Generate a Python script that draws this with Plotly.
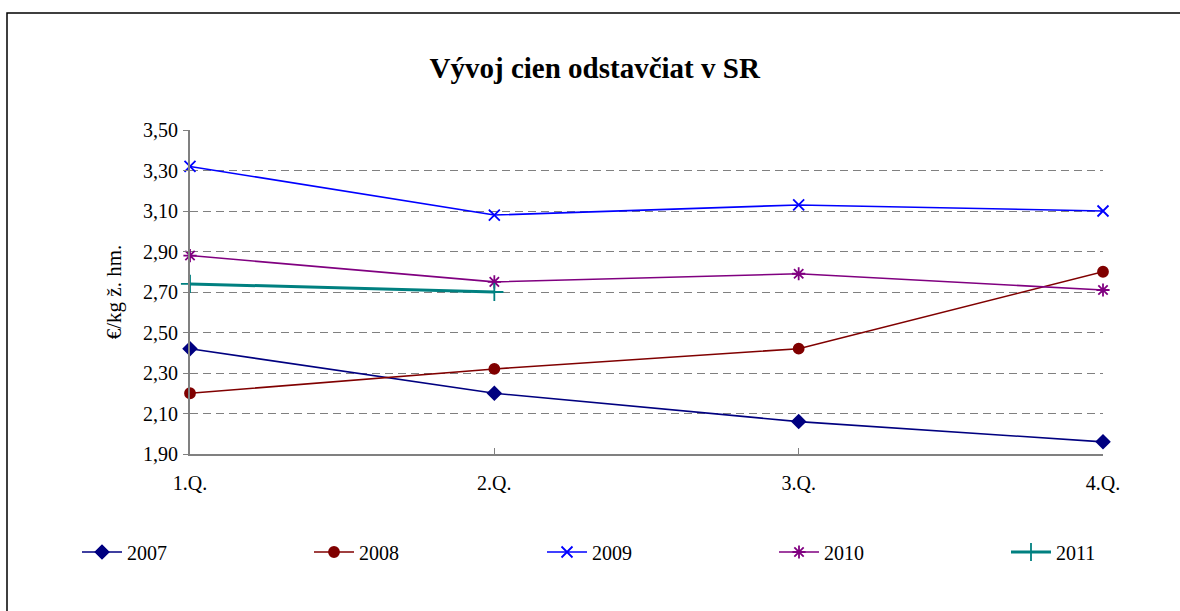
import plotly.graph_objects as go

quarters = ['1.Q.', '2.Q.', '3.Q.', '4.Q.']
y2007 = [2.42, 2.20, 2.06, 1.96]
y2008 = [2.20, 2.32, 2.42, 2.80]
y2009 = [3.32, 3.08, 3.13, 3.10]
y2010 = [2.88, 2.75, 2.79, 2.71]
y2011 = [2.74, 2.70]
y_ticks = [1.9, 2.1, 2.3, 2.5, 2.7, 2.9, 3.1, 3.3, 3.5]

font_serif = 'Liberation Serif, Times New Roman, serif'

# plot area in pixels: x 190..1103, y 130..454
L, R, T, B = 190, 1103, 130, 454
def px_x(p):
    return (p - L) / (R - L)
def px_y(p):
    return (B - p) / (B - T)

series = [
    ('2007', y2007, '#000080', 'diamond', 10, 1.6),
    ('2008', y2008, '#800000', 'circle', 10, 1.6),
    ('2009', y2009, '#0000ff', 'x-thin', 11, 1.6),
    ('2010', y2010, '#800080', 'asterisk', 11, 1.6),
    ('2011', y2011, '#008080', 'cross-thin', 13, 3),
]
legend_starts = [85, 317, 550, 782, 1014]

fig = go.Figure()

for i, (name, vals, color, symbol, size, width) in enumerate(series):
    lg = 'legend' if i == 0 else f'legend{i + 1}'
    fig.add_trace(go.Scatter(
        x=list(range(len(vals))), y=vals, name=name, mode='lines+markers',
        line=dict(color=color, width=width),
        marker=dict(symbol=symbol, size=size, color=color,
                    line=dict(color=color, width=1.8)),
        cliponaxis=False,
        legend=lg,
    ))
    fig.update_layout({lg: dict(
        x=px_x(legend_starts[i] - 8), xanchor='left', y=px_y(552), yanchor='middle',
        font=dict(size=20, family=font_serif), bgcolor='rgba(0,0,0,0)',
        itemwidth=40,
    )})

fig.update_layout(
    width=1180, height=611,
    margin=dict(l=L, r=1180 - R, t=T, b=611 - B),
    paper_bgcolor='white', plot_bgcolor='white',
    font=dict(family=font_serif, size=20, color='black'),
    title=dict(text='<b>Vývoj cien odstavčiat v SR</b>', x=0.504, xanchor='center',
               y=1 - 68 / 611, yanchor='middle', font=dict(size=29, family=font_serif)),
    xaxis=dict(
        range=[0, 3], tickvals=[0, 1, 2, 3], ticktext=quarters,
        showgrid=False, zeroline=False, showline=True, linecolor='#808080', linewidth=2,
        ticks='inside', ticklen=6, tickcolor='#808080', tickwidth=1,
        ticklabelstandoff=10,
    ),
    yaxis=dict(
        range=[1.9, 3.5], tickvals=y_ticks, ticktext=[f'{v:.2f}'.replace('.', ',') for v in y_ticks],
        showgrid=True, gridcolor='#808080', griddash='8px,5px', gridwidth=1.3,
        zeroline=False, showline=True, linecolor='#808080', linewidth=2,
        ticks='outside', ticklen=5, tickcolor='#808080',
        ticklabelstandoff=1,
        title=dict(text='€/kg ž. hm.', standoff=16, font=dict(size=21)),
    ),
    showlegend=True,
)

# outer chart frame
fig.add_shape(type='rect', xref='paper', yref='paper',
              x0=px_x(7), x1=px_x(1190), y0=px_y(620), y1=px_y(13),
              line=dict(color='black', width=1.5), layer='below')

fig.write_html('out.html', config={'displayModeBar': False},
               post_script="document.body.style.margin='0px';")
